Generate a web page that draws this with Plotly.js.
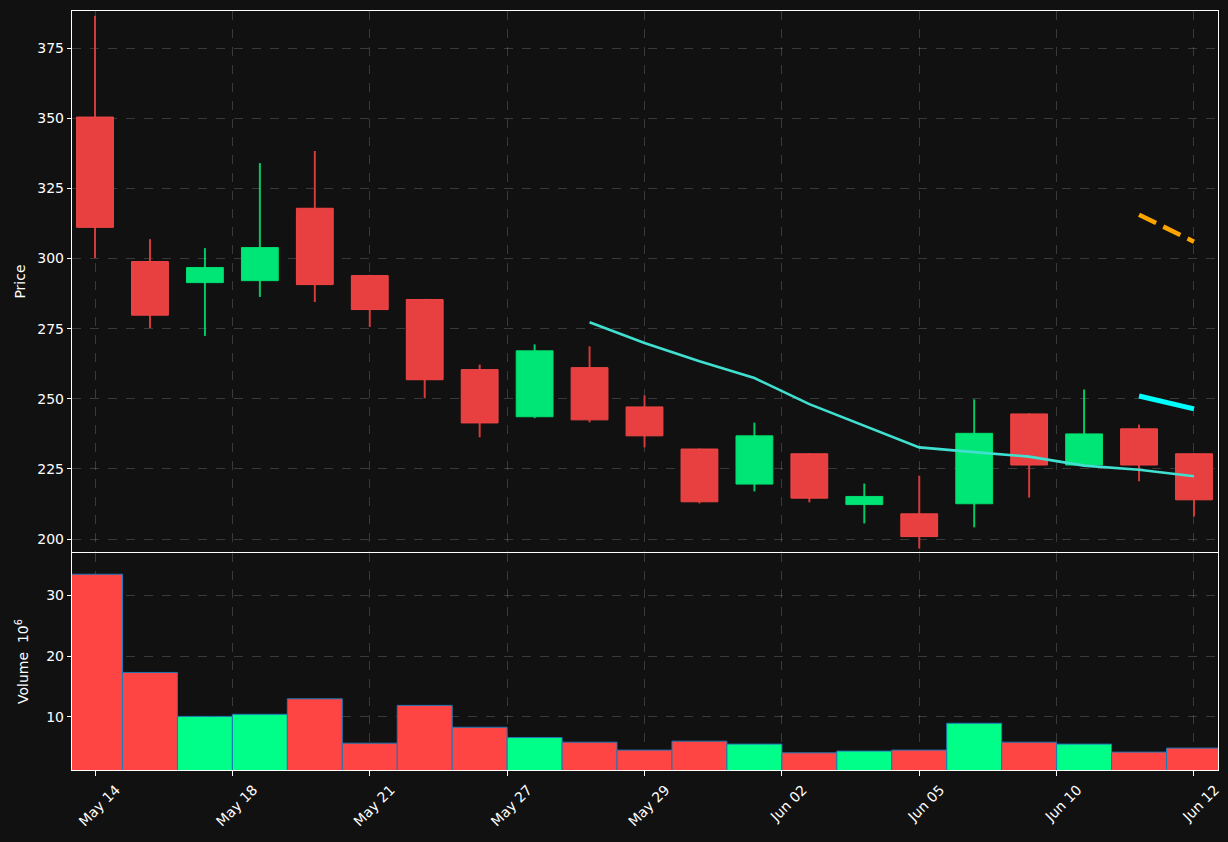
<!DOCTYPE html>
<html>
<head>
<meta charset="utf-8">
<script src="https://cdn.plot.ly/plotly-3.0.1.min.js"></script>
<style>
  html, body { margin: 0; padding: 0; background: #111111; }
  #chart { width: 1228px; height: 842px; }
</style>
</head>
<body>
<div id="chart"></div>
<script>
// ---- Data ----
const tickLabels = ["May 14", "May 18", "May 21", "May 27", "May 29", "Jun 02", "Jun 05", "Jun 10", "Jun 12"];
const tickPositions = [0, 2.5, 5, 7.5, 10, 12.5, 15, 17.5, 20];
const idx = [0,1,2,3,4,5,6,7,8,9,10,11,12,13,14,15,16,17,18,19,20];

const open  = [350.4, 298.9, 291.4, 292.1, 317.9, 293.9, 285.4, 260.4, 243.6, 261.1, 247.1, 232.1, 219.6, 230.4, 212.3, 209.0, 212.6, 244.6, 226.4, 239.3, 230.4];
const high  = [386.5, 306.9, 303.7, 334.0, 338.3, 294.2, 285.6, 262.2, 269.4, 268.7, 251.2, 232.3, 241.5, 230.6, 219.8, 222.6, 249.8, 244.8, 253.3, 240.8, 230.6];
const low   = [300.2, 275.2, 272.4, 286.3, 284.5, 275.6, 250.2, 236.3, 243.1, 241.6, 232.7, 212.7, 217.0, 213.1, 205.6, 196.6, 204.2, 214.8, 226.0, 220.6, 208.1];
const close = [311.1, 279.8, 296.8, 303.9, 290.7, 281.8, 256.8, 241.4, 267.1, 242.5, 236.8, 213.3, 236.8, 214.6, 215.2, 200.9, 237.7, 226.4, 237.5, 226.4, 214.0];
const volume = [33.5, 17.3, 10.05, 10.4, 12.95, 5.64, 11.87, 8.26, 6.56, 5.8, 4.49, 5.97, 5.48, 4.05, 4.33, 4.49, 8.92, 5.8, 5.48, 4.16, 4.82]; // x 10^6

const maIdx = [9,10,11,12,13,14,15,16,17,18,19,20];
const maValues = [277.3, 269.9, 263.4, 257.4, 248.1, 240.3, 232.7, 231.0, 229.4, 226.2, 224.7, 222.4];

const orangeIdx = [19, 20];
const orangeValues = [315.6, 306.0];
const cyanIdx = [19, 20];
const cyanValues = [251.0, 246.4];

// ---- Styles ----
const UP_BODY = "rgb(0,230,118)", DOWN_BODY = "rgb(232,64,64)";
const UP_WICK = "rgb(0,204,102)", DOWN_WICK = "rgb(214,58,58)";
const UP_VOL = "#00ff88", DOWN_VOL = "#ff4444";
const FONT = "DejaVu Sans";
const FS = 14;

const upI = idx.filter(i => close[i] >= open[i]);
const dnI = idx.filter(i => close[i] < open[i]);

const traces = [
  // wicks (thin bars, drawn beneath bodies)
  {type: "bar", x: dnI, base: dnI.map(i => low[i]), y: dnI.map(i => high[i] - low[i]),
   width: 0.036, xaxis: "x", yaxis: "y", marker: {color: DOWN_WICK, line: {width: 0}},
   hoverinfo: "skip", showlegend: false},
  {type: "bar", x: upI, base: upI.map(i => low[i]), y: upI.map(i => high[i] - low[i]),
   width: 0.036, xaxis: "x", yaxis: "y", marker: {color: UP_WICK, line: {width: 0}},
   hoverinfo: "skip", showlegend: false},
  // bodies
  {type: "bar", x: dnI, base: dnI.map(i => close[i]), y: dnI.map(i => open[i] - close[i]),
   width: 0.67, xaxis: "x", yaxis: "y",
   marker: {color: DOWN_BODY, line: {color: "rgb(240,70,70)", width: 1}}, showlegend: false},
  {type: "bar", x: upI, base: upI.map(i => open[i]), y: upI.map(i => close[i] - open[i]),
   width: 0.67, xaxis: "x", yaxis: "y",
   marker: {color: UP_BODY, line: {color: "rgb(0,220,110)", width: 1}}, showlegend: false},
  // moving average and overlay segments
  {type: "scatter", mode: "lines", x: maIdx, y: maValues, xaxis: "x", yaxis: "y",
   line: {color: "#40e0d0", width: 2.6}, showlegend: false},
  {type: "scatter", mode: "lines", x: orangeIdx, y: orangeValues, xaxis: "x", yaxis: "y",
   line: {color: "#ffa500", width: 4.5, dash: "19px,8px"}, showlegend: false},
  {type: "scatter", mode: "lines", x: cyanIdx, y: cyanValues, xaxis: "x", yaxis: "y",
   line: {color: "#00ffff", width: 5}, showlegend: false},
  // volume
  {type: "bar", x: idx, y: volume, width: 1, xaxis: "x2", yaxis: "y2",
   marker: {color: idx.map(i => close[i] >= open[i] ? UP_VOL : DOWN_VOL),
            line: {color: "#1f77b4", width: 1}}, showlegend: false}
];

const axisCommon = {
  showline: true, linecolor: "#ffffff", linewidth: 1.2, mirror: true,
  gridcolor: "rgba(255,255,255,0.17)", griddash: "dash", gridwidth: 1,
  zeroline: false, ticks: "outside", ticklen: 4, tickcolor: "#ffffff", tickwidth: 1,
  tickfont: {family: FONT, size: FS, color: "#ffffff"}
};

const layout = {
  width: 1228, height: 842,
  paper_bgcolor: "#111111", plot_bgcolor: "#111111",
  margin: {l: 72, r: 10, t: 11, b: 72},
  barmode: "overlay",
  showlegend: false,
  font: {family: FONT, color: "#ffffff", size: FS},
  xaxis: Object.assign({}, axisCommon, {
    domain: [0, 1], anchor: "y", range: [-0.419, 20.437],
    tickmode: "array", tickvals: tickPositions, showticklabels: false,
    ticks: ""
  }),
  xaxis2: Object.assign({}, axisCommon, {
    domain: [0, 1], anchor: "y2", matches: "x", range: [-0.419, 20.437],
    tickmode: "array", tickvals: tickPositions, ticktext: tickLabels, tickangle: -45,
    ticklabelshift: 21, ticklen: 5
  }),
  yaxis: Object.assign({}, axisCommon, {
    domain: [0.2872, 1], anchor: "x", range: [195.4, 388.2],
    tickmode: "array", tickvals: [200, 225, 250, 275, 300, 325, 350, 375],
    title: {text: "Price", font: {family: FONT, size: FS, color: "#ffffff"}, standoff: 8}
  }),
  yaxis2: Object.assign({}, axisCommon, {
    domain: [0, 0.2859], anchor: "x2", range: [1.21, 37.0],
    tickmode: "array", tickvals: [10, 20, 30],
    title: {text: "Volume  10<sup>6</sup>", font: {family: FONT, size: FS, color: "#ffffff"}, standoff: 14}
  })
};

Plotly.newPlot("chart", traces, layout, {staticPlot: true, displayModeBar: false});
</script>
</body>
</html>
